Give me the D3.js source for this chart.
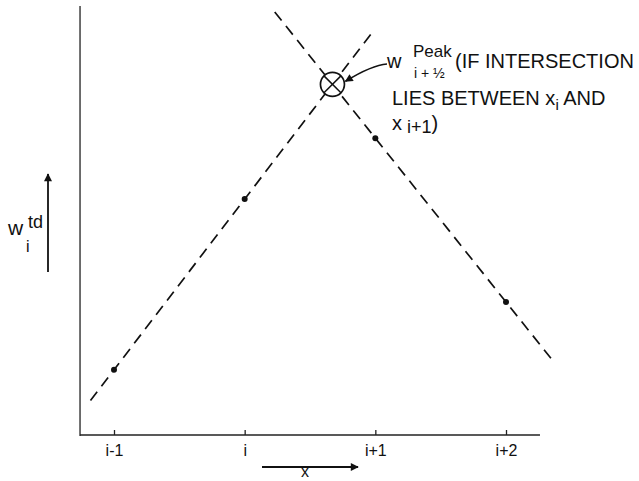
<!DOCTYPE html>
<html>
<head>
<meta charset="utf-8">
<script src="https://cdn.jsdelivr.net/npm/d3@7"></script>
<style>
  body { margin: 0; background: #fff; }
  text { font-family: "Liberation Sans", Arial, sans-serif; fill: #111; }
</style>
</head>
<body>
<svg id="chart" width="639" height="481"></svg>
<script>
// grid positions (offset from i) and their tick labels
var xPos = [-1, 0, 1, 2];
var tickLabels = ["i-1", "i", "i+1", "i+2"];
// w_i^td values at each point (arbitrary units)
var wValues = [1.52, 5.50, 6.92, 3.10];
// how far each dashed line is drawn (in x units)
var riseExtent = [-1.18, 0.98];   // line through i-1, i
var fallExtent = [0.23, 2.35];    // line through i+1, i+2
var xAxisExtent = [-1.26, 2.26];
var yDomain = [0, 10];

var svg = d3.select("#chart");

var x = d3.scaleLinear().domain([-1, 2]).range([114, 506]);
var y = d3.scaleLinear().domain(yDomain).range([435, 6]);

svg.append("defs").append("marker")
    .attr("id", "head")
    .attr("viewBox", "0 0 10 10")
    .attr("refX", 9).attr("refY", 5)
    .attr("markerWidth", 10).attr("markerHeight", 8)
    .attr("markerUnits", "userSpaceOnUse")
    .attr("orient", "auto")
  .append("path")
    .attr("d", "M0,0 L10,5 L0,10 Z")
    .attr("fill", "#111");

// axes
svg.append("line")
    .attr("x1", x(xAxisExtent[0])).attr("x2", x(xAxisExtent[0]))
    .attr("y1", y(yDomain[1])).attr("y2", y(yDomain[0]) + 1)
    .attr("stroke", "#222").attr("stroke-width", 1.3);
svg.append("line")
    .attr("x1", x(xAxisExtent[0])).attr("x2", x(xAxisExtent[1]))
    .attr("y1", y(0)).attr("y2", y(0))
    .attr("stroke", "#222").attr("stroke-width", 1.3);

var xAxis = d3.axisBottom(x)
    .tickValues(xPos)
    .tickSizeInner(-5).tickSizeOuter(0)
    .tickPadding(10)
    .tickFormat(function(d, k) { return tickLabels[k]; });

var gx = svg.append("g")
    .attr("transform", "translate(0," + y(0) + ")")
    .call(xAxis);
gx.select(".domain").remove();
gx.selectAll(".tick line").attr("stroke", "#222").attr("stroke-width", 1.3);
gx.selectAll(".tick text")
    .attr("font-family", "Liberation Sans, Arial, sans-serif")
    .attr("font-size", 16).attr("fill", "#111");

// the two dashed lines
function lineThrough(a, b, ext) {
  var slope = (wValues[b] - wValues[a]) / (xPos[b] - xPos[a]);
  return ext.map(function(t) { return [t, wValues[a] + slope * (t - xPos[a])]; });
}
var line = d3.line()
    .x(function(d) { return x(d[0]); })
    .y(function(d) { return y(d[1]); });

[lineThrough(0, 1, riseExtent), lineThrough(2, 3, fallExtent)].forEach(function(pts) {
  svg.append("path")
      .attr("d", line(pts))
      .attr("fill", "none")
      .attr("stroke", "#111")
      .attr("stroke-width", 1.7)
      .attr("stroke-dasharray", "11,7");
});

// data points
svg.selectAll("circle.pt")
    .data(xPos)
  .enter().append("circle")
    .attr("class", "pt")
    .attr("cx", function(d) { return x(d); })
    .attr("cy", function(d, k) { return y(wValues[k]); })
    .attr("r", 3)
    .attr("fill", "#111");

// intersection marker
var s1 = wValues[1] - wValues[0], s2 = wValues[3] - wValues[2];
var tI = (wValues[2] - s2 * xPos[2] - wValues[0] + s1 * xPos[0]) / (s1 - s2);
var vI = wValues[0] + s1 * (tI - xPos[0]);
var cx = x(tI), cy = y(vI), r = 12;
svg.append("circle")
    .attr("cx", cx).attr("cy", cy).attr("r", r)
    .attr("fill", "#fff").attr("stroke", "#111").attr("stroke-width", 1.7);
var q = r * Math.SQRT1_2;
[[-1, -1, 1, 1], [-1, 1, 1, -1]].forEach(function(s) {
  svg.append("line")
      .attr("x1", cx + s[0] * q).attr("y1", cy + s[1] * q)
      .attr("x2", cx + s[2] * q).attr("y2", cy + s[3] * q)
      .attr("stroke", "#111").attr("stroke-width", 1.5);
});

// leader arrow to the marker
svg.append("path")
    .attr("d", "M387,64 Q372,65 " + (cx + r + 1) + "," + (cy - 3))
    .attr("fill", "none").attr("stroke", "#111").attr("stroke-width", 1.7)
    .attr("marker-end", "url(#head)");

// annotation text
var note = svg.append("g");
note.append("text").attr("x", 387).attr("y", 68).attr("font-size", 20).text("w");
note.append("text").attr("x", 413).attr("y", 57).attr("font-size", 17).text("Peak");
note.append("text").attr("x", 414).attr("y", 78).attr("font-size", 14).text("i + \u00BD");
note.append("text").attr("x", 455).attr("y", 68).attr("font-size", 20).text("(IF INTERSECTION");

var t2 = note.append("text").attr("x", 392).attr("y", 105).attr("font-size", 20);
t2.append("tspan").text("LIES BETWEEN x");
t2.append("tspan").attr("dy", 5).attr("font-size", 15).text("i");
t2.append("tspan").attr("dy", -5).text(" AND");

var t3 = note.append("text").attr("x", 392).attr("y", 130).attr("font-size", 20);
t3.append("tspan").text("x");
t3.append("tspan").attr("dy", 3).attr("font-size", 18).text(" i+1");
t3.append("tspan").attr("dy", -3).text(")");

// y label + arrow
svg.append("line")
    .attr("x1", 48).attr("x2", 48).attr("y1", 272).attr("y2", 174)
    .attr("stroke", "#111").attr("stroke-width", 1.8)
    .attr("marker-end", "url(#head)");
svg.append("text").attr("x", 8).attr("y", 235).attr("font-size", 21).text("w");
svg.append("text").attr("x", 28).attr("y", 228).attr("font-size", 18).text("td");
svg.append("text").attr("x", 26).attr("y", 252).attr("font-size", 16).text("i");

// x label + arrow
svg.append("line")
    .attr("x1", 262).attr("x2", 358).attr("y1", 467).attr("y2", 467)
    .attr("stroke", "#111").attr("stroke-width", 1.8)
    .attr("marker-end", "url(#head)");
svg.append("text").attr("x", 305).attr("y", 477).attr("font-size", 16)
    .attr("text-anchor", "middle").text("x");
</script>
</body>
</html>
